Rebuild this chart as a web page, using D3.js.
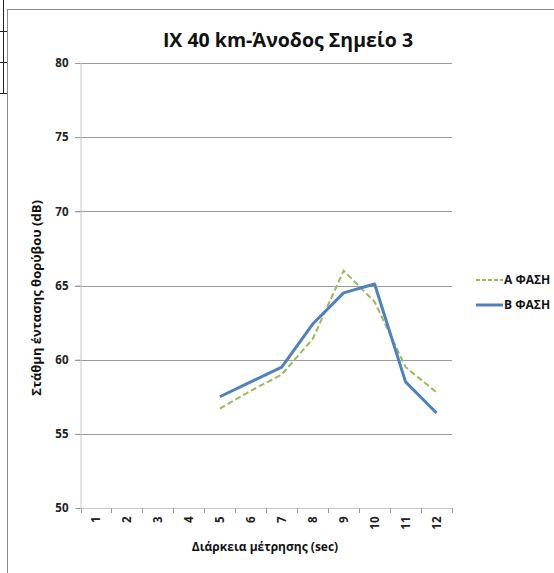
<!DOCTYPE html>
<html><head><meta charset="utf-8">
<script src="https://cdn.jsdelivr.net/npm/d3@7"></script>
<style>body{margin:0;background:#fff;}svg{display:block;}</style>
</head><body>
<svg id="c" width="554" height="573"></svg>
<script>
const categories = ["1","2","3","4","5","6","7","8","9","10","11","12"];
const seriesA = [null,null,null,null,56.7,57.9,59.0,61.4,66.0,63.9,59.5,57.8];
const seriesB = [null,null,null,null,57.5,58.5,59.5,62.4,64.5,65.1,58.5,56.4];
const yTicks = [50,55,60,65,70,75,80];
const seriesNames = ["Α ΦΑΣΗ","Β ΦΑΣΗ"];

const svg = d3.select("#c");
const font = "'Open Sans', sans-serif";

// table fragment at top-left
svg.append("line").attr("x1",3.5).attr("x2",3.5).attr("y1",0).attr("y2",93).attr("stroke","#222");
[31,62,93].forEach(y=>svg.append("line").attr("x1",0).attr("x2",8).attr("y1",y+0.5).attr("y2",y+0.5).attr("stroke","#222"));
// chart border
svg.append("rect").attr("x",7.5).attr("y",9.5).attr("width",560).attr("height",580).attr("fill","#fff").attr("stroke","#8c8c8c");

const x = d3.scaleBand().domain(categories).range([80.5,452]);
const y = d3.scaleLinear().domain([50,80]).range([508,63]);

// gridlines
svg.append("g").selectAll("line").data(yTicks.slice(1)).join("line")
  .attr("x1",75).attr("x2",452).attr("y1",d=>Math.round(y(d))+0.5).attr("y2",d=>Math.round(y(d))+0.5)
  .attr("stroke","#9a9a9a").attr("stroke-width",1);

// y axis
const ya = svg.append("g").attr("transform","translate(80.5,0)")
  .call(d3.axisLeft(y).tickValues(yTicks).tickSize(5).tickPadding(7));
ya.select(".domain").attr("stroke","#c8c8c8");
ya.selectAll(".tick line").attr("stroke","#9a9a9a");
ya.selectAll("text").attr("font-family",font).attr("font-weight","bold").attr("font-size",11.5).attr("fill","#222");

// x axis
const xa = svg.append("g").attr("transform","translate(0,508.5)")
  .call(d3.axisBottom(x).tickSize(0).tickPadding(0));
xa.select(".domain").attr("stroke","#c8c8c8").attr("d","M80.5,0H452");
xa.selectAll(".tick text").attr("font-family",font).attr("font-weight","bold").attr("font-size",11.5).attr("fill","#222")
  .attr("transform","rotate(-90)").attr("text-anchor","end").attr("dy","0.35em").attr("x",-8).attr("y",0);
svg.append("g").selectAll("line").data(categories.concat(["end"])).join("line")
  .attr("x1",(d,i)=>Math.round(80.5+i*x.step())+0.5).attr("x2",(d,i)=>Math.round(80.5+i*x.step())+0.5)
  .attr("y1",508).attr("y2",513).attr("stroke","#9a9a9a");

// lines
const line = d3.line().defined(d=>d[1]!=null).x(d=>x(d[0])+x.bandwidth()/2).y(d=>y(d[1]));
svg.append("path").datum(categories.map((c,i)=>[c,seriesA[i]])).attr("d",line)
  .attr("fill","none").attr("stroke","#9BBB59").attr("stroke-width",2).attr("stroke-dasharray","6,3");
svg.append("path").datum(categories.map((c,i)=>[c,seriesB[i]])).attr("d",line)
  .attr("fill","none").attr("stroke","#4F81BD").attr("stroke-width",3).attr("stroke-linejoin","round");

// title
svg.append("text").attr("x",288).attr("y",47).attr("text-anchor","middle")
  .attr("font-family",font).attr("font-weight","bold").attr("font-size",19.5).attr("fill","#111")
  .text("IX 40 km-Άνοδος Σημείο 3");
// axis titles
svg.append("text").attr("transform","translate(41,298) rotate(-90)").attr("text-anchor","middle")
  .attr("font-family",font).attr("font-weight","bold").attr("font-size",13).attr("fill","#111")
  .text("Στάθμη έντασης θορύβου (dB)");
svg.append("text").attr("x",265).attr("y",551).attr("text-anchor","middle")
  .attr("font-family",font).attr("font-weight","bold").attr("font-size",12).attr("fill","#111")
  .text("Διάρκεια μέτρησης (sec)");

// legend
const leg = svg.append("g");
[0,1].forEach(i=>{
  const ly = 280 + i*25;
  leg.append("line").attr("x1",476).attr("x2",503).attr("y1",ly).attr("y2",ly)
    .attr("stroke", i===0?"#9BBB59":"#4F81BD").attr("stroke-width", i===0?2:3)
    .attr("stroke-dasharray", i===0?"4,2":null);
  leg.append("text").attr("x",504).attr("y",ly).attr("dy","0.35em")
    .attr("font-family",font).attr("font-weight","bold").attr("font-size",12).attr("fill","#111")
    .text(seriesNames[i]);
});
</script>
</body></html>
